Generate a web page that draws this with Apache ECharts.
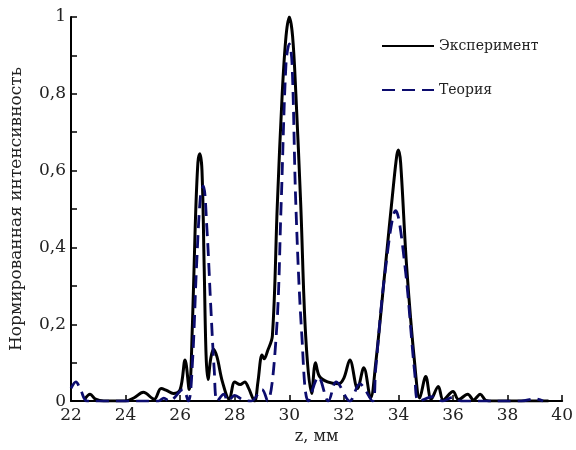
<!DOCTYPE html>
<html>
<head>
<meta charset="utf-8">
<script src="https://cdn.jsdelivr.net/npm/echarts@6/dist/echarts.min.js"></script>
<style>
  html, body { margin: 0; padding: 0; background: #fff; }
  #chart { width: 576px; height: 450px; }
</style>
</head>
<body>
<div id="chart"></div>
<script>
// эксперимент
var expZ = [22.5, 22.7, 22.9, 23.2, 24.0, 24.3, 24.65, 25.05, 25.3, 25.5, 25.75, 26.0, 26.18, 26.33,
    26.45, 26.55, 26.65, 26.72, 26.8, 26.88, 26.95, 27.02, 27.12, 27.22, 27.35, 27.55, 27.8,
    28.0, 28.2, 28.37, 28.5, 28.73, 28.85, 29.0, 29.08, 29.2, 29.38, 29.56, 29.74, 29.88, 30.0,
    30.12, 30.24, 30.42, 30.6, 30.82, 30.96, 31.1, 31.4, 31.8, 32.0, 32.22, 32.5, 32.73, 32.98,
    33.16, 33.52, 33.8, 33.94, 34.0, 34.08, 34.3, 34.6, 34.78, 35.0, 35.2, 35.46, 35.64, 36.0,
    36.2, 36.54, 36.75, 37.0, 37.2, 37.5, 38.5, 39.5];
var expI = [0.005, 0.018, 0.005, 0.0, 0.0, 0.008, 0.023, 0.005, 0.033, 0.028, 0.02, 0.03, 0.107, 0.03,
    0.2, 0.45, 0.62, 0.644, 0.6, 0.35, 0.12, 0.056, 0.11, 0.135, 0.115, 0.05, 0.005,
    0.05, 0.043, 0.05, 0.035, 0.0, 0.05, 0.12, 0.11, 0.13, 0.17, 0.51, 0.8, 0.95, 1.0,
    0.95, 0.8, 0.51, 0.17, 0.02, 0.1, 0.065, 0.05, 0.045, 0.06, 0.107, 0.033, 0.087, 0.008,
    0.094, 0.35, 0.55, 0.64, 0.654, 0.62, 0.35, 0.094, 0.008, 0.064, 0.005, 0.038, 0.003, 0.025,
    0.004, 0.018, 0.003, 0.018, 0.002, 0.0, 0.0, 0.0];

// теория
var theoryZ = [22.0, 22.18, 22.35, 22.6, 24.0, 25.2, 25.4, 25.6, 26.1, 26.3, 26.45, 26.6, 26.75, 26.85,
    26.98, 27.12, 27.25, 27.36, 27.6, 27.75, 28.0, 28.3, 28.6, 29.0, 29.2, 29.52, 29.7, 29.88,
    30.0, 30.1, 30.24, 30.46, 30.7, 31.07, 31.43, 31.72, 32.22, 32.58, 33.05, 33.16, 33.5,
    33.9, 34.24, 34.6, 34.75, 35.3, 35.6, 36.0, 36.3, 38.5, 39.0, 39.3];
var theoryI = [0.033, 0.05, 0.03, 0.0, 0.0, 0.0, 0.008, 0.0, 0.03, 0.0, 0.1, 0.35, 0.54, 0.56,
    0.45, 0.25, 0.08, 0.0, 0.018, 0.0, 0.015, 0.003, 0.0, 0.03, 0.0, 0.17, 0.51, 0.88,
    0.93, 0.88, 0.51, 0.17, 0.0, 0.063, 0.0, 0.05, 0.0, 0.045, 0.0, 0.08, 0.33,
    0.496, 0.35, 0.07, 0.0, 0.012, 0.0, 0.01, 0.0, 0.0, 0.006, 0.0];

var xTicks = [22, 40, 2];
var yTicks = [0, 1, 0.1];

function zip(a, b) {
    return a.map(function (v, i) { return [v, b[i]]; });
}

var serif = 'DejaVu Serif';
var chart = echarts.init(document.getElementById('chart'));

chart.setOption({
    animation: false,
    backgroundColor: '#fff',
    grid: { left: 68, right: 8, top: 17, bottom: 40 },
    legend: {
        orient: 'vertical',
        left: 376,
        top: 34,
        itemGap: 30,
        itemWidth: 52,
        itemHeight: 14,
        itemStyle: { opacity: 0 },
        textStyle: { fontFamily: serif, fontSize: 14, color: '#222' },
        data: ['Эксперимент', 'Теория']
    },
    xAxis: {
        type: 'value',
        min: xTicks[0], max: xTicks[1], interval: xTicks[2],
        name: 'z, мм',
        nameLocation: 'middle',
        nameGap: 22,
        nameTextStyle: { fontFamily: serif, fontSize: 16, color: '#222' },
        axisLine: { lineStyle: { color: '#000', width: 2 } },
        axisTick: { inside: true, length: 6, lineStyle: { color: '#000', width: 1.5 } },
        axisLabel: { fontFamily: serif, fontSize: 17, color: '#222', margin: 6 },
        splitLine: { show: false }
    },
    yAxis: {
        type: 'value',
        min: yTicks[0], max: yTicks[1], interval: yTicks[2],
        name: 'Нормированная интенсивность',
        nameLocation: 'middle',
        nameGap: 46,
        nameTextStyle: { fontFamily: serif, fontSize: 17, color: '#222' },
        axisLine: { show: true, lineStyle: { color: '#000', width: 2 } },
        axisTick: { inside: true, length: 6, lineStyle: { color: '#000', width: 1.5 } },
        axisLabel: {
            fontFamily: serif, fontSize: 17, color: '#222', margin: 5,
            formatter: function (v) {
                var k = Math.round(v * 10);
                if (k % 2) return '';
                if (k === 0) return '0';
                if (k === 10) return '1';
                return '0,' + k;
            }
        },
        splitLine: { show: false }
    },
    series: [
        {
            name: 'Эксперимент',
            type: 'line',
            data: zip(expZ, expI),
            showSymbol: false,
            symbol: 'none',
            smooth: 0.35,
            lineStyle: { color: '#000', width: 3 },
            itemStyle: { color: '#000' }
        },
        {
            name: 'Теория',
            type: 'line',
            data: zip(theoryZ, theoryI),
            showSymbol: false,
            symbol: 'none',
            smooth: 0.35,
            lineStyle: { color: '#0c0c6e', width: 2.8, type: [13, 7] },
            itemStyle: { color: '#0c0c6e' }
        }
    ]
});
</script>
</body>
</html>
